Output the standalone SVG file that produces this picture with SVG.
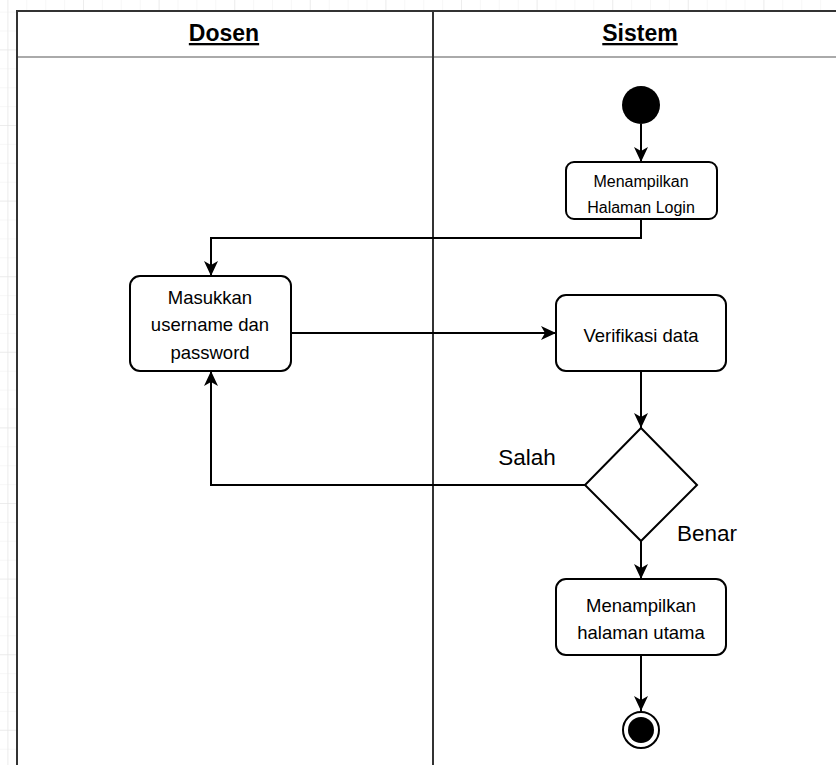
<svg xmlns="http://www.w3.org/2000/svg" width="836" height="765" viewBox="0 0 836 765">
  <style>
    .node { fill: #ffffff; stroke: #000000; stroke-width: 2; }
    .conn { fill: none; stroke: #000000; stroke-width: 2; }
    .lbl { font-family: "Liberation Sans", Arial, sans-serif; fill: #000000; text-anchor: middle; }
    .hdr { font-family: "Liberation Sans", Arial, sans-serif; font-weight: bold; font-size: 23px; text-decoration: underline; text-anchor: middle; fill: #000000; }
    .lane { fill: none; stroke: #333333; stroke-width: 2; }
  </style>
  <defs>
    <pattern id="minor" x="7.4" y="11.6" width="18.9" height="18.9" patternUnits="userSpaceOnUse">
      <path d="M0 0 H18.9 M0 0 V18.9" fill="none" stroke="#f0f0f0" stroke-width="1"/>
    </pattern>
    <pattern id="major" x="7.4" y="49.4" width="75.6" height="75.6" patternUnits="userSpaceOnUse">
      <path d="M0 0 H75.6 M0 0 V75.6" fill="none" stroke="#e3e3e3" stroke-width="1"/>
    </pattern>
    <marker id="arrow" viewBox="0 0 16 16" refX="15" refY="8" markerWidth="16" markerHeight="16" markerUnits="userSpaceOnUse" orient="auto">
      <path d="M0 1 L15 8 L0 15 L4 8 Z" fill="#000000"/>
    </marker>
  </defs>

  <rect x="0" y="0" width="836" height="765" fill="#ffffff"/>
  <rect x="0" y="0" width="836" height="765" fill="url(#minor)"/>
  <rect x="0" y="0" width="836" height="765" fill="url(#major)"/>

  <g id="swimlanes">
    <rect x="17" y="11" width="830" height="770" fill="#ffffff"/>
    <line x1="17" y1="57" x2="836" y2="57" stroke="#aaaaaa" stroke-width="2"/>
    <path class="lane" d="M17 780 V11 H840"/>
    <line class="lane" x1="433" y1="11" x2="433" y2="780"/>
    <text class="hdr" x="224" y="41">Dosen</text>
    <text class="hdr" x="640" y="41">Sistem</text>
  </g>

  <g id="connectors">
    <path class="conn" d="M641 124 V162" marker-end="url(#arrow)"/>
    <path class="conn" d="M641 219 V238 H211 V276" marker-end="url(#arrow)"/>
    <path class="conn" d="M291 333 H556" marker-end="url(#arrow)"/>
    <path class="conn" d="M641 371 V428" marker-end="url(#arrow)"/>
    <path class="conn" d="M585 485 H211 V371" marker-end="url(#arrow)"/>
    <path class="conn" d="M641 541 V579" marker-end="url(#arrow)"/>
    <path class="conn" d="M641 655 V711" marker-end="url(#arrow)"/>
    <text class="lbl" x="527" y="465" font-size="22.5">Salah</text>
    <text class="lbl" x="707" y="541" font-size="22.5">Benar</text>
  </g>

  <g id="start">
    <circle cx="641" cy="105" r="19" fill="#000000"/>
  </g>

  <g id="tampil-login">
    <rect class="node" x="566" y="162" width="151" height="57" rx="8"/>
    <text class="lbl" x="641" y="187" font-size="16">Menampilkan</text>
    <text class="lbl" x="641" y="213" font-size="16">Halaman Login</text>
  </g>

  <g id="masukkan">
    <rect class="node" x="130" y="276" width="161" height="95" rx="10"/>
    <text class="lbl" x="210" y="304" font-size="18.5">Masukkan</text>
    <text class="lbl" x="210" y="331" font-size="18.5">username dan</text>
    <text class="lbl" x="210" y="359" font-size="18.5">password</text>
  </g>

  <g id="verifikasi">
    <rect class="node" x="556" y="295" width="170" height="76" rx="10"/>
    <text class="lbl" x="641" y="342" font-size="18.5">Verifikasi data</text>
  </g>

  <g id="decision">
    <path class="node" d="M641 428 L697 485 L641 541 L585 485 Z"/>
  </g>

  <g id="tampil-utama">
    <rect class="node" x="556" y="579" width="170" height="76" rx="10"/>
    <text class="lbl" x="641" y="612" font-size="18.5">Menampilkan</text>
    <text class="lbl" x="641" y="639" font-size="18.5">halaman utama</text>
  </g>

  <g id="end">
    <circle cx="641" cy="730" r="18" fill="#ffffff" stroke="#000000" stroke-width="2"/>
    <circle cx="641" cy="730" r="13" fill="#000000"/>
  </g>
</svg>
